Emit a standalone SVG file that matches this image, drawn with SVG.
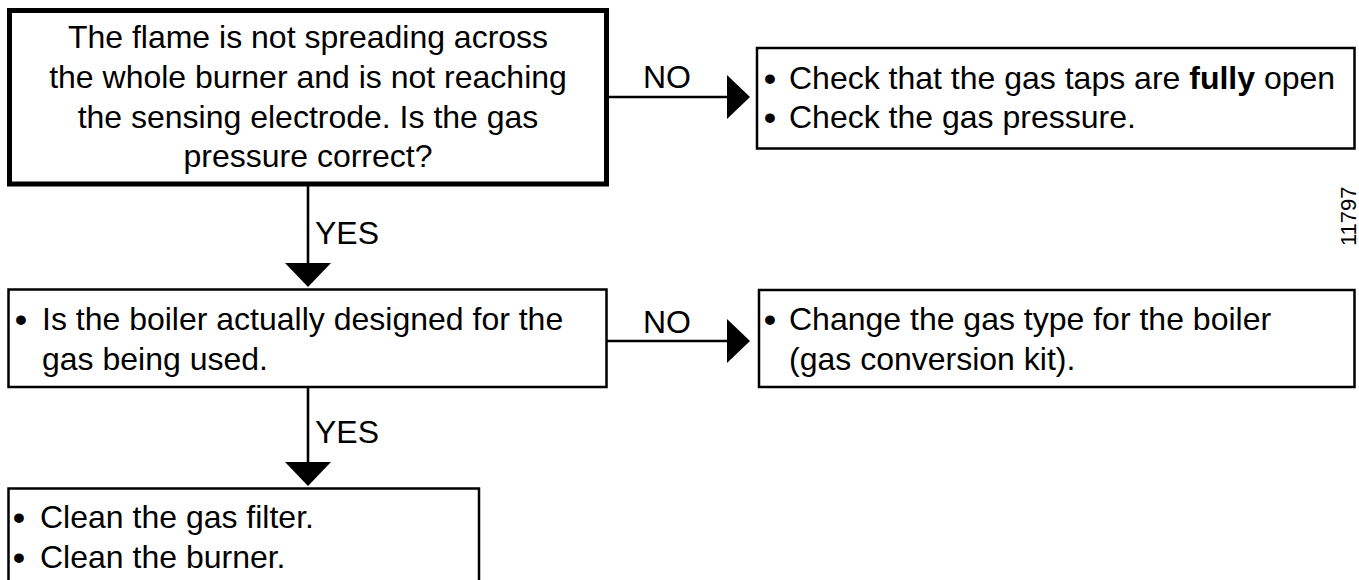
<svg xmlns="http://www.w3.org/2000/svg" width="1359" height="580" viewBox="0 0 1359 580">
<style>
.box{fill:#fff;stroke:#000;stroke-width:2.5}
.thick{fill:#fff;stroke:#000;stroke-width:5}
.t{font-family:"Liberation Sans",Arial,Helvetica,sans-serif;font-size:32px;fill:#000}
.b{font-size:34px;font-weight:bold}
.c{text-anchor:middle}
.ln{stroke:#000;stroke-width:2.6;fill:none}
.ah{fill:#000;stroke:none}
</style>
<rect width="1359" height="580" fill="#fff"/>
<g id="connectors">
<line class="ln" x1="308" y1="186" x2="308" y2="264"/>
<polygon class="ah" points="285,263 331,263 308,287"/>
<text class="t" x="315" y="244">YES</text>
<line class="ln" x1="308" y1="388" x2="308" y2="463"/>
<polygon class="ah" points="285,462 331,462 308,486"/>
<text class="t" x="315" y="443">YES</text>
<line class="ln" x1="607" y1="97" x2="728" y2="97"/>
<polygon class="ah" points="727,75 727,119 750,97"/>
<text class="t" x="643" y="88">NO</text>
<line class="ln" x1="607" y1="341" x2="728" y2="341"/>
<polygon class="ah" points="727,319 727,363 750,341"/>
<text class="t" x="643" y="333">NO</text>
</g>
<g id="n1">
<rect class="thick" x="9.5" y="10.5" width="597" height="173.5"/>
<text class="t c" x="308" y="48">The flame is not spreading across</text>
<text class="t c" x="308" y="88">the whole burner and is not reaching</text>
<text class="t c" x="308" y="128">the sensing electrode. Is the gas</text>
<text class="t c" x="308" y="167">pressure correct?</text>
</g>
<g id="n2">
<rect class="box" x="757" y="48" width="597.5" height="100.5"/>
<text class="t" y="89"><tspan class="b" x="764" dy="1">•</tspan><tspan x="789" dy="-1">Check that the gas taps are <tspan font-weight="bold">fully</tspan> open</tspan></text>
<text class="t" y="127.5"><tspan class="b" x="764" dy="1">•</tspan><tspan x="789" dy="-1">Check the gas pressure.</tspan></text>
</g>
<g id="n3">
<rect class="box" x="8.5" y="289.5" width="598" height="97.5"/>
<text class="t" y="330"><tspan class="b" x="15" dy="1">•</tspan><tspan x="42" dy="-1">Is the boiler actually designed for the</tspan></text>
<text class="t" x="42" y="370">gas being used.</text>
</g>
<g id="n4">
<rect class="box" x="759" y="290" width="595.5" height="97"/>
<text class="t" y="330"><tspan class="b" x="764" dy="1">•</tspan><tspan x="789" dy="-1">Change the gas type for the boiler</tspan></text>
<text class="t" x="789" y="370">(gas conversion kit).</text>
</g>
<g id="n5">
<rect class="box" x="8.5" y="488.5" width="470.5" height="120"/>
<text class="t" y="528"><tspan class="b" x="13" dy="1">•</tspan><tspan x="40" dy="-1">Clean the gas filter.</tspan></text>
<text class="t" y="568"><tspan class="b" x="13" dy="1">•</tspan><tspan x="40" dy="-1">Clean the burner.</tspan></text>
</g>
<text class="t" style="font-size:22px" transform="translate(1356,246) rotate(-90)">11797</text>
</svg>
